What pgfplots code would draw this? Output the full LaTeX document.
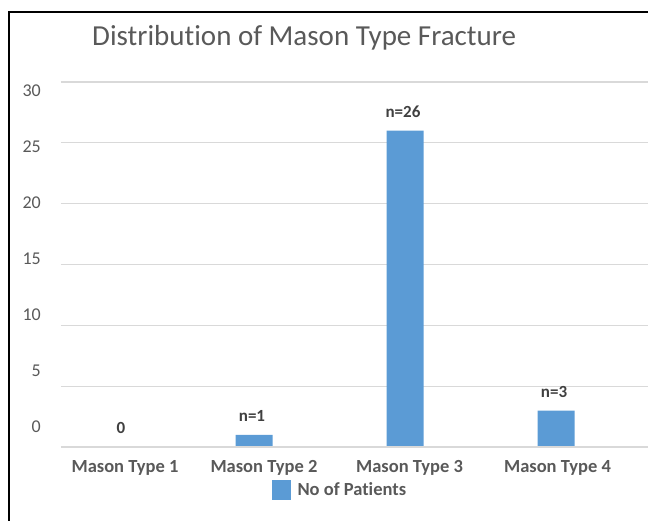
\documentclass[border=0pt]{standalone}
\usepackage{pgfplots}
\pgfplotsset{compat=1.18}
\usepackage{fontspec}
\setmainfont{Carlito}[Ligatures=NoCommon]
\definecolor{barblue}{HTML}{5B9BD5}
\definecolor{txtgray}{HTML}{595959}
\definecolor{lblgray}{HTML}{404040}
\definecolor{gridgray}{HTML}{D9D9D9}
\begin{document}
\begin{tikzpicture}
\path[use as bounding box] (0pt,0pt) rectangle (648pt,-521pt);
\draw[line width=1.5pt, black] (9pt,-521pt) -- (9pt,-12pt) -- (648pt,-12pt);
\node[anchor=west, inner sep=0pt, text=txtgray, font=\fontsize{29}{33}\selectfont] at (92pt,-38pt) {Distribution of Mason Type Fracture};
\begin{axis}[
  at={(61pt,-447pt)}, anchor=south west,
  scale only axis, width=587pt, height=365pt,
  ybar, bar width=37pt,
  xmin=-0.278, xmax=3.609, ymin=0, ymax=30,
  axis line style={draw=none},
  ytick={0,5,...,30}, yticklabels={},
  ymajorgrids, grid style={gridgray, line width=1.2pt},
  major tick length=0pt,
  extra y ticks={1.64,6.25,10.85,15.45,20.05,24.65,29.3},
  extra y tick labels={0,5,10,15,20,25,30},
  extra y tick style={grid=none, major tick length=0pt,
    y tick label style={anchor=east, inner sep=0pt, xshift=-20pt, text=txtgray, font=\fontsize{18}{20}\selectfont}},
  xtick={0.146,1.066,2.03,3.01},
  xticklabels={Mason Type 1,Mason Type 2,Mason Type 3,Mason Type 4},
  x tick label style={anchor=center, inner sep=0pt, yshift=-21pt, text=txtgray, font=\bfseries\fontsize{18.5}{20}\selectfont},
  nodes near coords, point meta=explicit symbolic,
  every node near coord/.append style={anchor=center, inner sep=0pt, yshift=19pt, xshift=-2pt, text=lblgray, font=\bfseries\fontsize{17}{20}\selectfont},
  legend style={at={(0.475,-0.117)}, anchor=center, draw=none, fill=none, inner sep=0pt,
    font=\bfseries\fontsize{18.5}{20}\selectfont, text=txtgray,
    legend cell align=left},
  legend image code/.code={\fill[barblue] (0pt,-10pt) rectangle (19pt,10pt); \path (24pt,0pt);},
  clip=false,
]
\addplot[fill=barblue, draw=none, bar shift=0pt] coordinates {(1,1)[n=1] (2,26)[n=26] (3,3)[n=3]};
\addlegendentry{No of Patients}
\addplot[fill=barblue, draw=none, bar shift=0pt, forget plot,
  every node near coord/.append style={xshift=20pt}] coordinates {(0,0)[0]};
\draw[gridgray, line width=1.2pt] (axis cs:-0.278,0) -- (axis cs:3.609,0);
\end{axis}
\end{tikzpicture}
\end{document}
